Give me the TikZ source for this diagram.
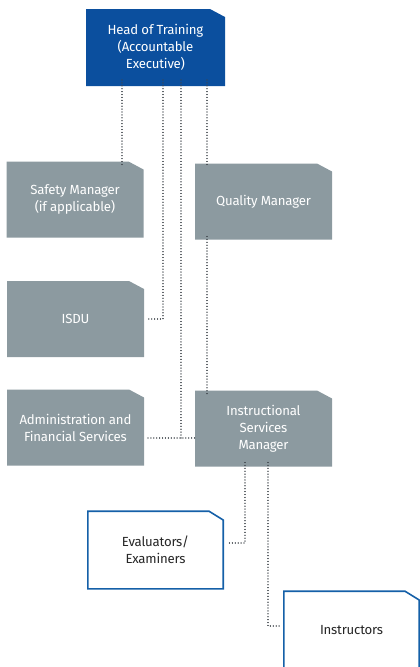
\documentclass[tikz,border=0pt]{standalone}
\usepackage{fontspec}
\setmainfont{Fira Sans}
\usetikzlibrary{backgrounds}
\definecolor{headblue}{HTML}{0B4F9E}
\definecolor{boxgrey}{HTML}{8C9AA0}
\definecolor{lineblue}{HTML}{1560A8}
\definecolor{dotgrey}{HTML}{40464C}
\begin{document}
\begin{tikzpicture}[x=1pt,y=-1pt,
  box/.style={rectangle, minimum width=137pt, minimum height=76pt, inner sep=0pt, outer sep=0pt,
    align=center, font=\fontsize{13.2}{17}\selectfont\addfontfeature{LetterSpace=-1.5}},
  greybox/.style={box, text=white},
  headbox/.style={box, text=white, minimum width=139pt, minimum height=77pt},
  outbox/.style={box, text=black!85},
  conn/.style={draw=dotgrey, line width=1.25pt, dash pattern=on 0.01pt off 2.9pt, line cap=round},
  cutdraw/.style={draw=lineblue, line width=1.6pt, fill=white, line join=miter}]
\useasboundingbox (0,0) rectangle (420,667);
\node[headbox] (head) at (155.5,47.5) {Head of Training\\(Accountable\\Executive)};
\node[greybox] (safety) at (75,199.5) {Safety Manager\\(if applicable)};
\node[greybox] (quality) at (263.5,201.5) {Quality Manager};
\node[greybox] (isdu) at (75.5,319) {ISDU};
\node[greybox] (admin) at (75.5,427.5) {Administration and\\Financial Services};
\node[greybox] (ism) at (263.5,428.5) {Instructional\\Services\\Manager};
\node[outbox] (eval) at (155.5,550) {Evaluators/\\Examiners};
\node[outbox] (instr) at (351.5,630) {Instructors};
\begin{scope}[on background layer]
  \foreach \n/\c in {head/headblue, safety/boxgrey, quality/boxgrey, isdu/boxgrey, admin/boxgrey, ism/boxgrey}
    \fill[\c] (\n.south west) -- (\n.north west) -- ([xshift=-15pt]\n.north east)
      -- ([yshift=-8pt]\n.north east) -- (\n.south east) -- cycle;
  \foreach \n in {eval, instr}
    \draw[cutdraw] ([shift={(0.8pt,-0.8pt)}]\n.south west) -- ([shift={(0.8pt,0.8pt)}]\n.north west)
      -- ([shift={(-15pt,0.8pt)}]\n.north east) -- ([shift={(-0.8pt,-8pt)}]\n.north east)
      -- ([shift={(-0.8pt,-0.8pt)}]\n.south east) -- cycle;
\end{scope}
% connectors
\draw[conn] ([xshift=-33.5pt,yshift=6pt]head.south) -- ([xshift=-33.5pt,yshift=-5pt]head.south |- safety.north);
\draw[conn] ([xshift=7.5pt,yshift=6pt]head.south) |- ([xshift=4pt]isdu.east);
\coordinate (j) at (181,438);
\draw[conn] ([xshift=25.5pt,yshift=6pt]head.south) -- (j);
\draw[conn] ([xshift=4pt]admin.east |- j) -- (ism.west |- j);
\draw[conn] ([xshift=51.5pt,yshift=6pt]head.south) -- ([xshift=-56.5pt,yshift=-3pt]quality.north);
\draw[conn] ([xshift=-56.5pt,yshift=3pt]quality.south) -- ([xshift=-56.5pt,yshift=-5pt]ism.north);
\draw[conn] ([xshift=-18.5pt,yshift=4pt]ism.south) |- ([xshift=5pt,yshift=7pt]eval.east);
\draw[conn] ([xshift=4.5pt,yshift=4pt]ism.south) |- ([xshift=-3pt,yshift=4pt]instr.west);
\end{tikzpicture}
\end{document}
